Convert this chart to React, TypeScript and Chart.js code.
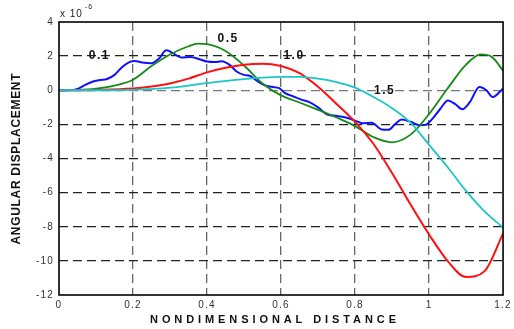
import React, { useEffect, useRef } from "react";
import { Chart, registerables } from "chart.js";

Chart.register(...registerables);

// ---- data ----
const blueX = [0, 0.03, 0.05, 0.07, 0.09, 0.11, 0.13, 0.15, 0.17, 0.19, 0.205, 0.225, 0.25, 0.27, 0.29, 0.31, 0.33, 0.355, 0.38, 0.4, 0.42, 0.44, 0.46, 0.48, 0.5, 0.515, 0.535, 0.555, 0.575, 0.595, 0.61, 0.635, 0.655, 0.675, 0.7, 0.725, 0.75, 0.775, 0.8, 0.82, 0.845, 0.872, 0.89, 0.91, 0.926, 0.95, 0.975, 0.99, 1.01, 1.03, 1.051, 1.07, 1.09, 1.11, 1.136, 1.155, 1.172, 1.2];
const blueY = [0, 0, 0.08, 0.3, 0.5, 0.6, 0.66, 0.9, 1.35, 1.65, 1.72, 1.62, 1.58, 1.85, 2.34, 2.15, 1.92, 1.95, 1.82, 1.68, 1.65, 1.7, 1.5, 1.1, 0.9, 0.85, 0.55, 0.3, 0.2, 0.12, -0.15, -0.38, -0.55, -0.68, -1.0, -1.42, -1.5, -1.6, -1.78, -1.93, -1.9, -2.3, -2.32, -1.95, -1.72, -1.85, -2.05, -2.03, -1.65, -1.1, -0.6, -0.8, -1.11, -0.7, 0.19, 0.0, -0.4, 0.1];

const greenX = [0, 0.05, 0.1, 0.15, 0.2, 0.25, 0.3, 0.35, 0.375, 0.4, 0.45, 0.5, 0.55, 0.6, 0.65, 0.7, 0.75, 0.8, 0.85, 0.9, 0.95, 1.0, 1.05, 1.1, 1.14, 1.17, 1.2];
const greenY = [0, 0.02, 0.1, 0.27, 0.62, 1.42, 2.1, 2.58, 2.73, 2.7, 2.3, 1.45, 0.4, -0.3, -0.72, -1.15, -1.6, -2.1, -2.75, -3.05, -2.6, -1.4, 0.1, 1.5, 2.1, 1.95, 1.15];

const redX = [0, 0.1, 0.2, 0.25, 0.3, 0.35, 0.4, 0.45, 0.5, 0.55, 0.6, 0.65, 0.7, 0.75, 0.8, 0.85, 0.9, 0.95, 1.0, 1.05, 1.1, 1.15, 1.2];
const redY = [0, 0.02, 0.1, 0.22, 0.4, 0.68, 1.05, 1.32, 1.5, 1.56, 1.42, 1.0, 0.2, -0.8, -1.85, -3.15, -4.85, -6.7, -8.45, -10.0, -10.95, -10.6, -8.4];

const cyanX = [0, 0.1, 0.15, 0.2, 0.3, 0.4, 0.5, 0.55, 0.6, 0.65, 0.7, 0.75, 0.8, 0.85, 0.9, 0.95, 1.0, 1.05, 1.1, 1.15, 1.2];
const cyanY = [0, 0, 0, 0.02, 0.15, 0.42, 0.65, 0.74, 0.78, 0.78, 0.68, 0.48, 0.15, -0.4, -1.05, -1.9, -3.2, -4.5, -5.9, -7.1, -8.05];

const xTickValues = [0, 0.2, 0.4, 0.6, 0.8, 1.0, 1.2];
const xTickLabels = ["0", "0.2", "0.4", "0.6", "0.8", "1", "1.2"];
const yTickValues = [4, 2, 0, -2, -4, -6, -8, -10, -12];
const yTickLabels = ["4", "2", "0", "-2", "-4", "-6", "-8", "-10", "-12"];

const curveLabels = ["0.1", "0.5", "1.0", "1.5"];
const curveLabelX = [0.107, 0.455, 0.633, 0.878];
const curveLabelY = [2, 3.03, 2, 0];

const xTitle = "NONDIMENSIONAL DISTANCE";
const yTitle = "ANGULAR DISPLACEMENT";

const FONT = "'Liberation Sans', Arial, sans-serif";

function pts(xs: number[], ys: number[]) {
  return xs.map((x, i) => ({ x, y: ys[i] }));
}

function spacedText(ctx: CanvasRenderingContext2D, text: string, cx: number, cy: number, targetWidth: number) {
  const anyCtx = ctx as any;
  anyCtx.letterSpacing = "0px";
  const w = ctx.measureText(text).width;
  const sp = Math.max(0, (targetWidth - w) / (text.length - 1));
  anyCtx.letterSpacing = sp + "px";
  const w2 = ctx.measureText(text).width - sp;
  ctx.textAlign = "left";
  ctx.textBaseline = "middle";
  ctx.fillText(text, cx - w2 / 2, cy);
  anyCtx.letterSpacing = "0px";
}

const decorPlugin = {
  id: "decor",
  beforeDraw(chart: any) {
    (chart.ctx as any).letterSpacing = "1.2px";
  },
  afterDraw(chart: any) {
    const ctx: CanvasRenderingContext2D = chart.ctx;
    const { left, right, top, bottom } = chart.chartArea;
    const xs = chart.scales.x;
    const ys = chart.scales.y;
    ctx.save();
    (ctx as any).letterSpacing = "0px";
    // frame
    ctx.strokeStyle = "#000";
    ctx.lineWidth = 1.6;
    ctx.setLineDash([]);
    ctx.strokeRect(left, top, right - left, bottom - top);

    // curve labels
    ctx.fillStyle = "#111";
    ctx.font = `bold 12px ${FONT}`;
    (ctx as any).letterSpacing = "1.5px";
    ctx.textAlign = "center";
    ctx.textBaseline = "middle";
    curveLabels.forEach((t, i) => {
      ctx.fillText(t, xs.getPixelForValue(curveLabelX[i]) + 0.75, ys.getPixelForValue(curveLabelY[i]));
    });
    (ctx as any).letterSpacing = "0px";

    // exponent
    ctx.fillStyle = "#222";
    ctx.font = `10px ${FONT}`;
    ctx.textAlign = "left";
    ctx.textBaseline = "alphabetic";
    (ctx as any).letterSpacing = "1px";
    ctx.fillText("x 10", left + 1, 17);
    ctx.font = `7px ${FONT}`;
    ctx.fillText("-6", left + 26, 9);
    (ctx as any).letterSpacing = "0px";

    // axis titles
    ctx.fillStyle = "#111";
    ctx.font = `bold 11px ${FONT}`;
    spacedText(ctx, xTitle, (left + right) / 2 - 8, 320, 246);

    ctx.save();
    ctx.translate(17, 159);
    ctx.rotate(-Math.PI / 2);
    ctx.font = `bold 12px ${FONT}`;
    spacedText(ctx, yTitle, 0, 0, 171);
    ctx.restore();

    ctx.restore();
  },
};

export default function App() {
  const ref = useRef<HTMLCanvasElement | null>(null);

  useEffect(() => {
    if (!ref.current) return;
    const ds = (label: string, xs: number[], ys: number[], color: string, w: number) => ({
      label,
      data: pts(xs, ys),
      borderColor: color,
      backgroundColor: color,
      borderWidth: w,
      pointRadius: 0,
      fill: false,
      cubicInterpolationMode: "monotone" as const,
    });
    const chart = new Chart(ref.current, {
      type: "line",
      data: {
        datasets: [
          ds("1.5", cyanX, cyanY, "#1cc6c6", 1.8),
          ds("1.0", redX, redY, "#ff1010", 2),
          ds("0.5", greenX, greenY, "#168a16", 1.8),
          ds("0.1", blueX, blueY, "#1010ff", 2),
        ],
      },
      options: {
        responsive: false,
        animation: false,
        events: [],
        layout: { padding: { top: 22, right: 8, left: 0, bottom: 0 } },
        plugins: { legend: { display: false }, tooltip: { enabled: false }, title: { display: false } },
        scales: {
          x: {
            type: "linear",
            min: 0,
            max: 1.2,
            afterBuildTicks: (scale: any) => {
              scale.ticks = xTickValues.map((v) => ({ value: v }));
            },
            afterFit: (scale: any) => {
              scale.height = 34;
            },
            ticks: {
              padding: 4,
              color: "#333",
              font: { family: FONT, size: 10 },
              maxRotation: 0,
              autoSkip: false,
              callback: (value: any) => {
                const i = xTickValues.findIndex((v) => Math.abs(v - value) < 1e-6);
                return i >= 0 ? xTickLabels[i] : "";
              },
            },
            grid: {
              drawTicks: false,
              lineWidth: 1.3,
              color: (c: any) => {
                const v = c.tick ? c.tick.value : null;
                if (v === null || Math.abs(v) < 1e-6 || Math.abs(v - 1.2) < 1e-6) return "rgba(0,0,0,0)";
                return "#666";
              },
            },
            border: { display: false, dash: [9, 5] },
          },
          y: {
            type: "linear",
            min: -12,
            max: 4,
            afterBuildTicks: (scale: any) => {
              scale.ticks = yTickValues.map((v) => ({ value: v }));
            },
            afterFit: (scale: any) => {
              scale.width = 59;
            },
            ticks: {
              padding: 5,
              color: "#333",
              font: { family: FONT, size: 10 },
              autoSkip: false,
              callback: (value: any) => {
                const i = yTickValues.findIndex((v) => Math.abs(v - value) < 1e-6);
                return i >= 0 ? yTickLabels[i] : "";
              },
            },
            grid: {
              drawTicks: false,
              lineWidth: 1.3,
              color: (c: any) => {
                const v = c.tick ? c.tick.value : null;
                if (v === null || Math.abs(v - 4) < 1e-6 || Math.abs(v + 12) < 1e-6) return "rgba(0,0,0,0)";
                if (Math.abs(v) < 1e-6) return "#777";
                return "#222";
              },
            },
            border: { display: false, dash: [9, 5] },
          },
        },
      },
      plugins: [decorPlugin],
    } as any);
    return () => chart.destroy();
  }, []);

  return (
    <div style={{ position: "fixed", left: 0, top: 0, width: 514, height: 329, background: "#fff" }}>
      <canvas ref={ref} width={514} height={329} style={{ display: "block" }} />
    </div>
  );
}
